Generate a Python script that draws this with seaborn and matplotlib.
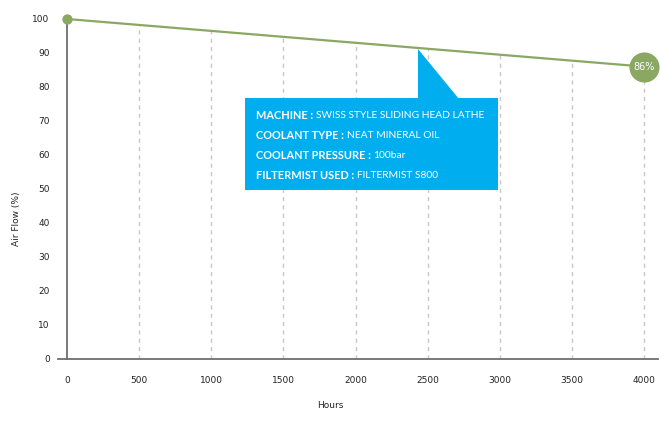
import matplotlib
matplotlib.use("Agg")
import matplotlib.pyplot as plt
import seaborn as sns
import numpy as np
import pandas as pd
from matplotlib.patches import Rectangle, Polygon

# ---- data ----
hours = [0, 4000]
airflow = [100, 86]
x_ticks = [0, 500, 1000, 1500, 2000, 2500, 3000, 3500, 4000]
y_ticks = [0, 10, 20, 30, 40, 50, 60, 70, 80, 90, 100]
info_labels = ["MACHINE : ", "COOLANT TYPE : ", "COOLANT PRESSURE : ", "FILTERMIST USED : "]
info_values = ["SWISS STYLE SLIDING HEAD LATHE", "NEAT MINERAL OIL", "100bar", "FILTERMIST S800"]

GREEN = "#8aa862"
BLUE = "#00aeef"
W, H = 660, 424

sns.set_style("white")
plt.rcParams["font.family"] = ["DejaVu Sans"]

fig = plt.figure(figsize=(W / 100, H / 100), dpi=100)

def fx(px):
    return px / W

def fy(py):
    return 1 - py / H

# axes: spans px 58..658 horizontally, data 0 at 67 and 4000 at 644
x0, x4 = 67, 644
ppu = (x4 - x0) / 4000
ax_left, ax_right = 58, 658
ax_top, ax_bottom = 10, 359
ax = fig.add_axes([fx(ax_left), fy(ax_bottom), (ax_right - ax_left) / W, (ax_bottom - ax_top) / H])
ax.set_xlim(-(x0 - ax_left) / ppu, 4000 + (ax_right - x4) / ppu)
ypu = (359 - 19) / 100
ax.set_ylim(0, 100 + (19 - ax_top) / ypu)

df = pd.DataFrame({"Hours": hours, "Air Flow (%)": airflow})

# drop lines from the line to the axis
tick_top = np.interp(x_ticks[1:], hours, airflow)
ax.vlines(x_ticks[1:], 0, tick_top, colors="#c8c8c8", linestyles=(0, (3, 3)), linewidth=1, zorder=1)

sns.lineplot(data=df, x="Hours", y="Air Flow (%)", color=GREEN, linewidth=1.6, ax=ax, zorder=3)
ax.scatter([hours[0]], [airflow[0]], s=55, color=GREEN, zorder=4, linewidths=0, clip_on=False)
ax.scatter([hours[-1]], [airflow[-1]], s=470, color=GREEN, zorder=4, linewidths=0, clip_on=False)
ax.text(hours[-1], airflow[-1], f"{airflow[-1]}%", color="white", ha="center", va="center",
        fontsize=7, zorder=5)

# spines
for s in ["top", "right"]:
    ax.spines[s].set_visible(False)
ax.spines["left"].set_position(("data", 0))
ax.spines["left"].set_bounds(0, 100)
for s in ["left", "bottom"]:
    ax.spines[s].set_color("#6e6e6e")
    ax.spines[s].set_linewidth(1.3)

ax.set_xticks(x_ticks)
ax.set_yticks(y_ticks)
ax.tick_params(axis="both", direction="out", length=6.5, width=1.2, color="#444444",
               labelsize=6.5, labelcolor="#222222", pad=6)
ax.set_xlabel("")
ax.set_ylabel("")

fig.text(fx(330), fy(405), "Hours", ha="center", va="center", fontsize=6.5, color="#222222")
fig.text(fx(16), fy(219), "Air Flow (%)", ha="center", va="center", rotation=90,
         fontsize=6.5, color="#222222")

# info box
bx0, bx1, by0, by1 = 245, 498, 98, 190
fig.patches.append(Rectangle((fx(bx0), fy(by1)), (bx1 - bx0) / W, (by1 - by0) / H,
                             transform=fig.transFigure, facecolor=BLUE, edgecolor="none", zorder=10))
fig.patches.append(Polygon([(fx(418), fy(49)), (fx(418), fy(98.5)), (fx(459), fy(98.5))],
                           closed=True, transform=fig.transFigure, facecolor=BLUE,
                           edgecolor="none", zorder=10))

fig.canvas.draw()
for i, (lab, val) in enumerate(zip(info_labels, info_values)):
    yc = 115.5 + 20 * i
    t1 = fig.text(fx(256), fy(yc), lab, ha="left", va="center", color="white",
                  fontsize=7.9, fontweight="bold", family=["Lato", "DejaVu Sans"], zorder=11)
    fig.canvas.draw()
    bb = t1.get_window_extent()
    fig.text(bb.x1 / W, fy(yc), val, ha="left", va="center", color="white",
             fontsize=7.35, family=["Lato", "DejaVu Sans"], zorder=11)

fig.savefig("out.png", dpi=100)
